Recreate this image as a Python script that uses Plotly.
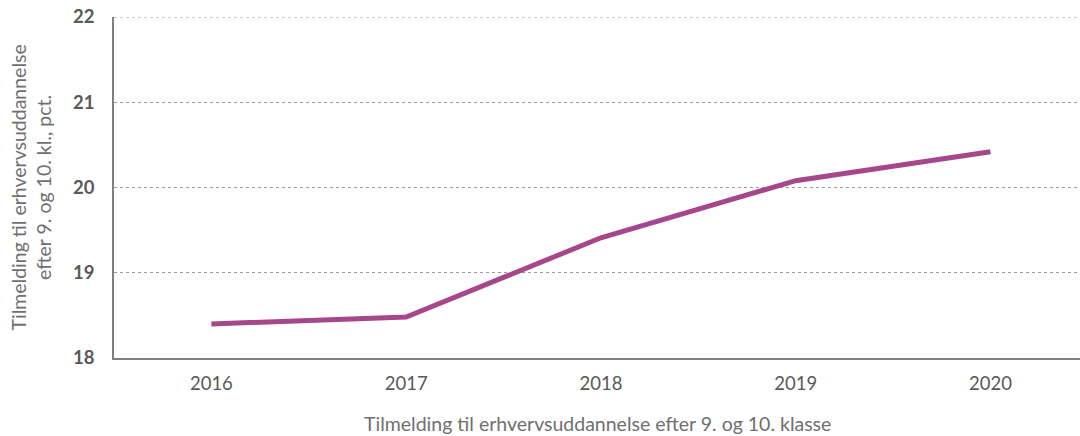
import plotly.graph_objects as go

years = ["2016", "2017", "2018", "2019", "2020"]
values = [18.40, 18.48, 19.41, 20.08, 20.42]
y_ticks = [18, 19, 20, 21, 22]

x_title = "Tilmelding til erhvervsuddannelse efter 9. og 10. klasse"
y_title = "Tilmelding til erhvervsuddannelse<br>efter 9. og 10. kl., pct."

grey = "#595959"
title_grey = "#6f6f6f"
font = "Lato, 'Open Sans', sans-serif"

fig = go.Figure()
fig.add_trace(go.Scatter(x=years, y=values, mode="lines",
                         line=dict(color="#A5478A", width=5), showlegend=False))

# top gridline (plotly hides gridlines at the range edge)
fig.add_shape(type="line", xref="paper", yref="y", x0=0, x1=1, y0=y_ticks[-1], y1=y_ticks[-1],
              line=dict(color="#9a9a9a", width=1, dash="dot"), layer="below")

fig.update_layout(
    width=1080, height=436,
    margin=dict(l=114, r=0, t=17, b=78),
    plot_bgcolor="white", paper_bgcolor="white",
    font=dict(family=font, color=grey),
    xaxis=dict(type="category", range=[-0.5, 4.46], showgrid=False, automargin=False,
               showline=True, linecolor="#808080", linewidth=1.5,
               ticks="", ticklabelstandoff=8, tickfont=dict(size=18.5, color=grey)),
    yaxis=dict(range=[18, 22], tickvals=y_ticks, showgrid=True, automargin=False,
               gridcolor="#9a9a9a", griddash="dot", gridwidth=1,
               showline=True, linecolor="#808080", linewidth=1.5,
               zeroline=False, ticks="", ticklabelstandoff=14,
               tickfont=dict(size=18.5, color=grey, weight="bold")),
    annotations=[
        dict(text=x_title, xref="paper", yref="paper", x=0.5, y=0, yshift=-65,
             xanchor="center", yanchor="middle", showarrow=False,
             font=dict(size=19.5, color=title_grey)),
        dict(text=y_title, xref="paper", yref="paper", x=0, y=0.5, xshift=-84,
             xanchor="center", yanchor="middle", textangle=-90, showarrow=False,
             font=dict(size=19.5, color=title_grey)),
    ],
)

fig.write_html("out.html", config={"displayModeBar": False},
               post_script="document.body.style.margin='0';document.body.style.overflow='hidden';")
